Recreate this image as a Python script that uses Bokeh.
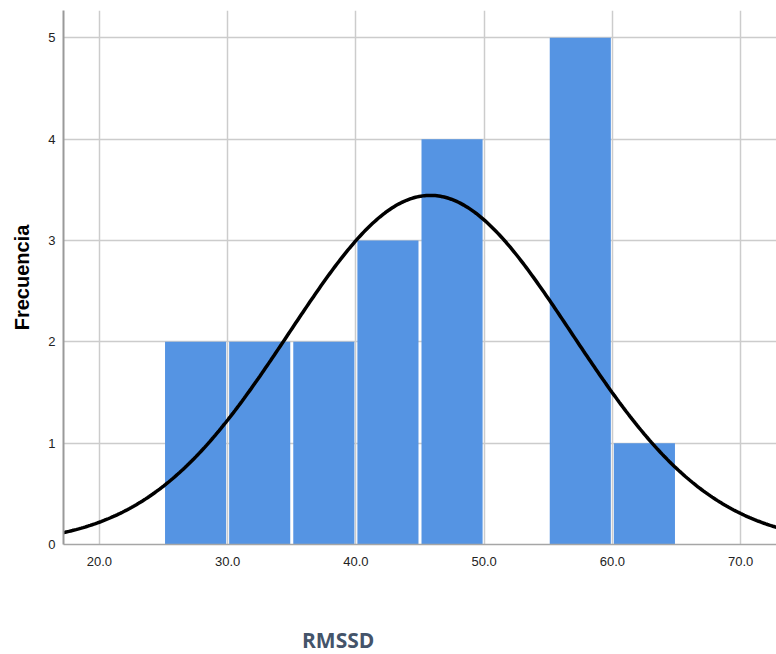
import numpy as np
from bokeh.plotting import figure
from bokeh.models import FixedTicker, Range1d, ColumnDataSource, Div
from bokeh.layouts import column
from bokeh.embed import file_html
from bokeh.resources import INLINE

# RMSSD histogram: bin edges (left) and counts per bin of width 5
bin_left = [25, 30, 35, 40, 45, 50, 55, 60]
counts = [2, 2, 2, 3, 4, 0, 5, 1]
bin_width = 5.0

# fitted normal curve parameters
mean_rmssd = 45.8
sd_rmssd = 11.0

x_ticks = [20, 30, 40, 50, 60, 70]
x_tick_labels = {20: "20.0", 30: "30.0", 40: "40.0", 50: "50.0", 60: "60.0", 70: "70.0"}
y_ticks = [0, 1, 2, 3, 4, 5]

p = figure(width=776, height=580, output_backend="svg", toolbar_location=None,
           x_range=Range1d(17.2, 72.8), y_range=Range1d(0, 5.27),
           min_border_left=63, min_border_right=0, min_border_top=10,
           min_border_bottom=36, margin=0)
p.outline_line_color = None
p.background_fill_color = "white"
p.border_fill_color = "white"

# bars
centers = [b + bin_width / 2 for b in bin_left]
src = ColumnDataSource(dict(x=centers, top=counts))
p.vbar(x="x", top="top", width=bin_width * 0.953, bottom=0, source=src,
       fill_color="#5594e3", line_color=None)

# normal curve scaled to counts
n_total = sum(counts)
xs = np.linspace(17.2, 72.8, 400)
ys = n_total * bin_width / (sd_rmssd * np.sqrt(2 * np.pi)) * np.exp(-0.5 * ((xs - mean_rmssd) / sd_rmssd) ** 2)
p.line(xs, ys, line_color="black", line_width=3.5)

# axes
p.xaxis.ticker = FixedTicker(ticks=x_ticks)
p.xaxis.major_label_overrides = x_tick_labels
p.yaxis.ticker = FixedTicker(ticks=y_ticks)
for ax in (p.xaxis, p.yaxis):
    ax.major_tick_line_color = None
    ax.minor_tick_line_color = None
    ax.major_label_text_font = "Liberation Sans"
    ax.major_label_text_font_size = "13px"
    ax.major_label_text_color = "#222222"
p.xaxis.axis_line_color = "#a6a6a6"
p.xaxis.axis_line_width = 1.5
p.yaxis.axis_line_color = "#9a9a9a"
p.yaxis.axis_line_width = 2
p.xaxis.major_label_standoff = 6
p.yaxis.major_label_standoff = 2

p.yaxis.axis_label = "Frecuencia"
p.yaxis.axis_label_text_font = "Liberation Sans"
p.yaxis.axis_label_text_font_style = "bold"
p.yaxis.axis_label_text_font_size = "20px"
p.yaxis.axis_label_text_color = "black"
p.yaxis.axis_label_standoff = 12

p.xgrid.ticker = FixedTicker(ticks=x_ticks)
p.ygrid.ticker = FixedTicker(ticks=[1, 2, 3, 4, 5])
p.xgrid.grid_line_color = "#cccccc"
p.ygrid.grid_line_color = "#cccccc"
p.xgrid.grid_line_width = 1.5
p.ygrid.grid_line_width = 1.5

# x-axis title below the plot
title_div = Div(text="RMSSD", width=776, height=74, margin=0,
                styles={"font-family": "Open Sans", "font-weight": "bold",
                        "font-size": "21px", "color": "#44546a",
                        "padding-left": "302px", "padding-top": "46px",
                        "box-sizing": "border-box", "line-height": "28px"})

layout = column(p, title_div, spacing=0)
open("out.html", "w").write(file_html(layout, INLINE))
